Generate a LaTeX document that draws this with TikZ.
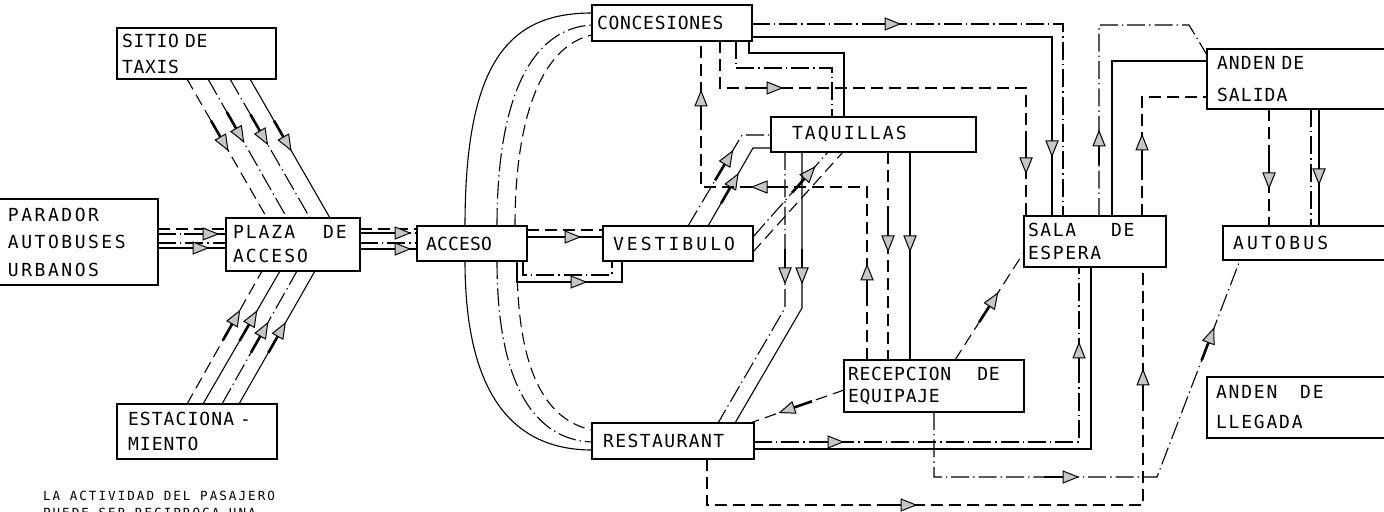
\documentclass[tikz,border=0pt]{standalone}
\usepackage{fontspec}
\setmainfont{DejaVu Sans Mono}
\usetikzlibrary{decorations.markings}

\begin{document}
\begin{tikzpicture}[y=0.50pt, x=0.50pt, yscale=-1.000000, xscale=1.000000, inner sep=0pt, outer sep=0pt,
  caja/.style={draw=black, line width=0.9pt, anchor=west, align=left},
  rotulo/.style 2 args={font=\fontsize{9pt}{#2}\selectfont\addfontfeature{LetterSpace=#1}},
  trazo/.style={draw=black, line width=0.55pt, line join=miter},
  rayas/.style={trazo, dash pattern=on 6pt off 3pt},
  punto/.style={trazo, dash pattern=on 9pt off 2pt on 0.7pt off 2pt},
  marca/.style={postaction={decorate, decoration={markings, mark=at position #1 with {%
    \draw[solid, line width=1.3pt] (-13pt,0pt) -- (-3pt,0pt);
    \draw[solid, line width=0.5pt, fill=gray!45] (4pt,0pt) -- (-3.5pt,3pt) -- (-3.5pt,-3pt) -- cycle;}}}}]
\useasboundingbox (0,0) rectangle (1384,512);
\clip (0,0) rectangle (1384,512);

\node[caja, rotulo={4}{13pt}, minimum height=25.5pt, inner xsep=2.5pt, text width=74.5pt] (taxis) at (117,53.5) {SITIO DE\\TAXIS};
\node[caja, rotulo={14}{13.75pt}, minimum height=43pt, inner xsep=6pt, text width=69pt] (parador) at (-4,242) {PARADOR\\AUTOBUSES\\URBANOS};
\node[caja, rotulo={11}{12pt}, minimum height=26.5pt, inner xsep=3.5pt, text width=60pt] (plaza) at (226,244.5) {PLAZA\hspace{14pt}DE\\ACCESO};
\node[caja, rotulo={6}{12.5pt}, minimum height=27.5pt, inner xsep=5.5pt, text width=69pt] (estac) at (117,431.5) {ESTACIONA -\\MIENTO};
\node[caja, rotulo={1}{12pt}, minimum height=17.5pt, inner xsep=4.5pt, text width=46pt] (acceso) at (417,243.5) {ACCESO};
\node[caja, rotulo={17}{12pt}, minimum height=17.5pt, inner xsep=5pt, text width=65pt] (vestib) at (603,243.5) {VESTIBULO};
\node[caja, rotulo={4}{12pt}, minimum height=18pt, inner xsep=2.5pt, text width=75pt] (conces) at (592,23) {CONCESIONES};
\node[caja, rotulo={12}{12pt}, minimum height=17.5pt, inner xsep=10.5pt, text width=81.5pt] (taquil) at (771,134.5) {TAQUILLAS};
\node[caja, rotulo={8}{12pt}, minimum height=18pt, inner xsep=5.5pt, text width=70pt] (restau) at (592,441) {RESTAURANT};
\node[caja, rotulo={4}{11pt}, minimum height=26pt, inner xsep=2pt, text width=86pt] (recep) at (844,386) {RECEPCION\hspace{13pt}DE\\EQUIPAJE};
\node[caja, rotulo={9}{11.5pt}, minimum height=25.5pt, inner xsep=2pt, text width=67pt] (sala) at (1024,241.5) {SALA\hspace{17.5pt}DE\\ESPERA};
\node[caja, rotulo={6}{16pt}, minimum height=30pt, inner xsep=5pt, text width=86.5pt] (salida) at (1207,79) {ANDEN DE\\SALIDA};
\node[caja, rotulo={18}{12pt}, minimum height=17pt, inner xsep=5pt, text width=78.5pt] (autobus) at (1223,243) {AUTOBUS};
\node[caja, rotulo={10}{15pt}, minimum height=30.5pt, inner xsep=4.5pt, text width=87.5pt] (llegada) at (1207,407.5) {ANDEN\hspace{11.4pt}DE\\LLEGADA};
\node[anchor=north west, align=left, font=\fontsize{6.3pt}{8.5pt}\selectfont\addfontfeature{LetterSpace=16}] (nota) at (43,491) {LA ACTIVIDAD DEL PASAJERO\\PUEDE SER RECIPROCA UNA};

\path[rayas, marca=37pt] (187,0 |- taxis.south) -- (267,0 |- plaza.north);
\path[punto, marca=32pt] (208,0 |- taxis.south) -- (287,0 |- plaza.north);
\path[punto, marca=33.5pt] (230,0 |- taxis.south) -- (310,0 |- plaza.north);
\path[trazo, marca=37pt] (250,0 |- taxis.south) -- (330,0 |- plaza.north);

\path[rayas, marca=49.5pt] (187,0 |- estac.north) -- (262,0 |- plaza.south);
\path[trazo, marca=49.5pt] (203,0 |- estac.north) -- (280,0 |- plaza.south);
\path[punto, marca=42.5pt] (222,0 |- estac.north) -- (297,0 |- plaza.south);
\path[trazo, marca=42.5pt] (239,0 |- estac.north) -- (315,0 |- plaza.south);

\path[rayas] (parador.east |- 0,229) -- (plaza.west |- 0,229);
\path[punto, marca=26pt] (parador.east |- 0,234) -- (plaza.west |- 0,234);
\path[punto] (parador.east |- 0,243) -- (plaza.west |- 0,243);
\path[trazo, marca=21pt] (parador.east |- 0,248) -- (plaza.west |- 0,248);

\path[rayas] (plaza.east |- 0,229) -- (acceso.west |- 0,229);
\path[punto, marca=21pt] (plaza.east |- 0,233) -- (acceso.west |- 0,233);
\path[punto] (plaza.east |- 0,243) -- (acceso.west |- 0,243);
\path[trazo, marca=21pt] (plaza.east |- 0,249) -- (acceso.west |- 0,249);

\path[trazo] (465,0 |- acceso.north) .. controls (465,60) and (510,13) .. (conces.west |- 0,13);
\path[punto] (497,0 |- acceso.north) .. controls (497,90) and (535,28) .. (conces.west |- 0,25);
\path[rayas] (515,0 |- acceso.north) .. controls (515,110) and (545,45) .. (conces.west |- 0,35);

\path[trazo] (465,0 |- acceso.south) .. controls (465,390) and (510,450) .. (restau.west |- 0,450);
\path[punto] (497,0 |- acceso.south) .. controls (497,385) and (535,440) .. (restau.west |- 0,442);
\path[rayas] (517,0 |- acceso.south) .. controls (517,370) and (545,420) .. (restau.west |- 0,430);

\path[rayas] (acceso.east |- 0,230) -- (vestib.west |- 0,230);
\path[trazo, marca=22.5pt] (acceso.east |- 0,237) -- (vestib.west |- 0,237);
\path[punto] (523,0 |- acceso.south) |- (612,275) -- (612,0 |- vestib.south);
\path[trazo, marca=41pt] (517,0 |- acceso.south) |- (622,282) -- (622,0 |- vestib.south);

\path[punto, marca=39.5pt] (688,0 |- vestib.north) -- (742,135) -- (taquil.west |- 0,135);
\path[trazo, marca=26pt] (708,0 |- vestib.north) -- (753,148) -- (taquil.west |- 0,148);
\path[punto, marca=42.5pt] (vestib.east |- 0,237) -- (828,0 |- taquil.south);
\path[rayas] (vestib.east |- 0,252) -- (843,0 |- taquil.south);

\path[punto, marca=61.5pt] (785,0 |- taquil.south) -- (785,308) -- (718,0 |- restau.north);
\path[trazo, marca=61.5pt] (802,0 |- taquil.south) -- (802,308) -- (735,0 |- restau.north);

\path[rayas, marca=45.5pt] (888,0 |- taquil.south) -- (888,0 |- recep.north);
\path[trazo, marca=45.5pt] (910,0 |- taquil.south) -- (910,0 |- recep.north);

\path[rayas, marca=43.5pt, marca=140pt, marca=213.5pt] (867,0 |- recep.north) -- (867,187) -- (701,187) -- (701,0 |- conces.south);

\path[punto] (736,0 |- conces.south) -- (736,68) -- (832,68) -- (832,0 |- taquil.north);
\path[trazo] (749,0 |- conces.south) -- (749,53) -- (844,53) -- (844,0 |- taquil.north);

\path[rayas, marca=50.5pt, marca=215pt] (720,0 |- conces.south) -- (720,88) -- (1026,88) -- (1026,0 |- sala.north);
\path[punto, marca=70pt] (conces.east |- 0,24) -- (1063,24) -- (1063,0 |- sala.north);
\path[trazo, marca=205.5pt] (conces.east |- 0,37) -- (1052,37) -- (1052,0 |- sala.north);

\path[punto, marca=38.5pt] (1099,0 |- sala.north) -- (1099,25) -- (1189,25) -- (salida.west |- 0,55);
\path[trazo] (1112,0 |- sala.north) |- (salida.west |- 0,61);
\path[rayas, marca=36.5pt] (1142,0 |- sala.north) |- (salida.west |- 0,97);

\path[rayas, marca=35.5pt] (1269,0 |- salida.south) -- (1269,0 |- autobus.north);
\path[punto] (1311,0 |- salida.south) -- (1311,0 |- autobus.north);
\path[trazo, marca=33.5pt] (1319,0 |- salida.south) -- (1319,0 |- autobus.north);

\path[rayas, marca=30pt] (recep.west |- 0,390) -- (750,0 |- restau.north);
\path[rayas, marca=35.5pt] (955,0 |- recep.north) -- (sala.west |- 0,252);

\path[punto, marca=40.5pt, marca=208pt] (restau.east |- 0,442) -- (1079,442) -- (1079,0 |- sala.south);
\path[trazo] (restau.east |- 0,449) -- (1091,449) -- (1091,0 |- sala.south);
\path[rayas, marca=123.5pt, marca=304.5pt] (707,0 |- restau.south) -- (707,505) -- (1143,505) -- (1143,0 |- sala.south);

\path[punto, marca=100.5pt, marca=219.5pt] (934,0 |- recep.south) -- (934,477) -- (1157,477) -- (1240,0 |- autobus.south);
\end{tikzpicture}
\end{document}
